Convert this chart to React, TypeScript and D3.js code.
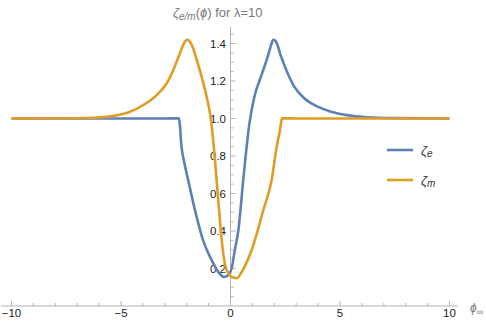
import React from 'react';
import * as d3 from 'd3';

// values
const phiE = [-10, -6, -3, -2.35, -2.3, -2.26, -2.1, -1.93, -1.62, -1.25, -0.86, -0.55, -0.3, -0.1, 0.05, 0.2, 0.36, 0.58, 0.86, 1.09, 1.39, 1.7, 1.85, 1.95, 2.08, 2.31, 2.61, 2.91, 3.37, 3.98, 4.59, 5.3, 6.2, 7.5, 10];
const zetaE = [1.0, 1.0, 1.0, 1.001, 0.95, 0.88, 0.76, 0.67, 0.51, 0.35, 0.245, 0.18, 0.155, 0.165, 0.2, 0.3, 0.405, 0.67, 0.97, 1.116, 1.223, 1.33, 1.39, 1.42, 1.41, 1.33, 1.241, 1.17, 1.108, 1.063, 1.036, 1.018, 1.007, 1.002, 1.0];

const phiM = [-10, -8, -6.26, -5.3, -4.59, -3.98, -3.37, -2.91, -2.61, -2.31, -2.08, -1.97, -1.77, -1.54, -1.32, -1.09, -0.9, -0.71, -0.56, -0.4, -0.25, -0.1, 0.05, 0.28, 0.55, 0.97, 1.5, 1.88, 2.11, 2.26, 2.3, 2.35, 3, 6, 10];
const zetaM = [1.0, 1.001, 1.004, 1.015, 1.036, 1.072, 1.125, 1.188, 1.259, 1.348, 1.41, 1.42, 1.392, 1.312, 1.223, 1.116, 1.0, 0.78, 0.565, 0.35, 0.22, 0.175, 0.155, 0.148, 0.19, 0.3, 0.512, 0.672, 0.85, 0.94, 0.97, 1.001, 1.0, 1.0, 1.0];

const xMajor = [-10, -5, 0, 5, 10];
const xLabels = ['\u221210', '\u22125', '0', '5', '10'];
const yMajor = [0.2, 0.4, 0.6, 0.8, 1.0, 1.2, 1.4];
const yLabels = ['0.2', '0.4', '0.6', '0.8', '1.0', '1.2', '1.4'];

const BLUE = '#5E81B5';
const ORANGE = '#E19C24';
const AXIS = '#b3b3b3';
const FONT = '"Liberation Sans", Arial, sans-serif';

export default function App() {
  const W = 486, H = 329;
  const x = d3.scaleLinear().domain([-10, 10]).range([11.5, 449.5]);
  const y = d3.scaleLinear().domain([0, 1.4]).range([306, 43.5]);

  const line = d3.line<number[]>()
    .x(d => x(d[0]))
    .y(d => y(d[1]))
    .curve(d3.curveMonotoneX);

  const ePts = phiE.map((p, i) => [p, zetaE[i]]);
  const mPts = phiM.map((p, i) => [p, zetaM[i]]);

  const xMinor = d3.range(-10, 10.01, 1).filter(v => !xMajor.includes(v));
  const yMinor = d3.range(0.05, 1.46, 0.05).filter(v => !yMajor.some(m => Math.abs(m - v) < 1e-6));

  return (
    <svg width={W} height={H} style={{ position: 'absolute', left: 0, top: 0 }} fontFamily={FONT}>
      {/* title */}
      <text x={173} y={17} fontSize={13} fill="#777">
        <tspan fontStyle="italic">ζ</tspan>
        <tspan fontStyle="italic" fontSize={10} dy={3}>e/m</tspan>
        <tspan dy={-3}>(</tspan>
        <tspan fontStyle="italic">ϕ</tspan>
        <tspan>) for λ=10</tspan>
      </text>

      {/* x axis */}
      <line x1={1} x2={458} y1={y(0)} y2={y(0)} stroke={AXIS} />
      {xMajor.map(v => (
        <line key={'xM' + v} x1={x(v)} x2={x(v)} y1={y(0)} y2={y(0) - 5} stroke={AXIS} />
      ))}
      {xMinor.map(v => (
        <line key={'xm' + v} x1={x(v)} x2={x(v)} y1={y(0)} y2={y(0) - 3} stroke={AXIS} />
      ))}
      {xMajor.map((v, i) => (
        <text key={'xl' + v} x={x(v)} y={317} fontSize={11.5} textAnchor="middle" fill="#222">{xLabels[i]}</text>
      ))}
      <text x={470} y={312} fontSize={12} fill="#777">
        <tspan fontStyle="italic">ϕ</tspan>
        <tspan fontStyle="italic" fontSize={9} dy={3}>∞</tspan>
      </text>

      {/* y axis */}
      <line x1={x(0)} x2={x(0)} y1={27} y2={y(0)} stroke={AXIS} />
      {yMajor.map(v => (
        <line key={'yM' + v} x1={x(0)} x2={x(0) + 5} y1={y(v)} y2={y(v)} stroke={AXIS} />
      ))}
      {yMinor.map(v => (
        <line key={'ym' + v} x1={x(0)} x2={x(0) + 3} y1={y(v)} y2={y(v)} stroke={AXIS} />
      ))}
      {yMajor.map((v, i) => (
        <text key={'yl' + v} x={226} y={y(v) + 4} fontSize={11.5} textAnchor="end" fill="#222">{yLabels[i]}</text>
      ))}

      {/* curves */}
      <path d={line(ePts) || ''} fill="none" stroke={BLUE} strokeWidth={2.6} strokeLinejoin="round" />
      <path d={line(mPts) || ''} fill="none" stroke={ORANGE} strokeWidth={2.6} strokeLinejoin="round" />

      {/* legend */}
      <line x1={387} x2={413} y1={150} y2={150} stroke={BLUE} strokeWidth={2.6} />
      <text x={421} y={155} fontSize={13} fill="#333">
        <tspan fontStyle="italic">ζ</tspan>
        <tspan fontStyle="italic" fontSize={10} dy={2}>e</tspan>
      </text>
      <line x1={387} x2={413} y1={180} y2={180} stroke={ORANGE} strokeWidth={2.6} />
      <text x={421} y={185} fontSize={13} fill="#333">
        <tspan fontStyle="italic">ζ</tspan>
        <tspan fontStyle="italic" fontSize={10} dy={2}>m</tspan>
      </text>
    </svg>
  );
}
